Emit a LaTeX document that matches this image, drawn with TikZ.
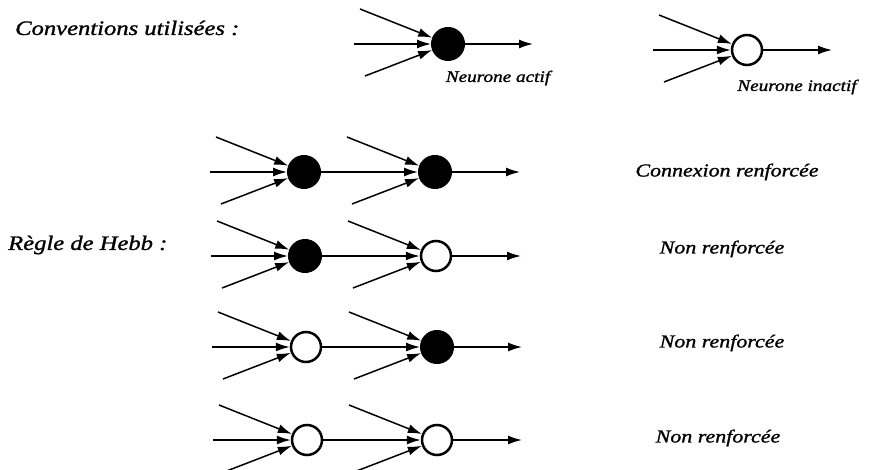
\documentclass[tikz,border=0pt]{standalone}
\usepackage{fontspec}
\setmainfont{Liberation Serif}
\newfontfamily\labfont[FakeStretch=1.2,FakeBold=1.2]{Liberation Serif}
\usetikzlibrary{arrows.meta}
\newcommand\nrn[4]{%
  \node[#2] (#1) at (#3,#4) {};
  \coordinate (#1-u) at ([shift={(-88,-35)}]#1.center);
  \coordinate (#1-l) at ([shift={(-83,32)}]#1.center);
  \draw[link] (#1-u) -- (#1);
  \draw[link] (#1-l) -- (#1);
}
\newcommand\nin[1]{%
  \coordinate (#1-m) at ([shift={(-94,0)}]#1.center);
  \draw[link] (#1-m) -- (#1);
}
\newcommand\nout[1]{%
  \coordinate (#1-o) at ([shift={(85,0)}]#1.center);
  \draw[link] (#1) -- (#1-o);
}
\begin{document}
\begin{tikzpicture}[x=1pt,y=-1pt,
  on/.style={circle,fill=black,draw=black,line width=1pt,minimum size=33pt,inner sep=0pt},
  off/.style={circle,fill=white,draw=black,line width=2.5pt,minimum size=30pt,inner sep=0pt},
  link/.style={line width=1.5pt,-{Latex[length=14pt,width=9pt]}},
  title/.style={font=\labfont\itshape\fontsize{20.5}{24}\selectfont,inner sep=0pt,anchor=west},
  small/.style={font=\labfont\itshape\fontsize{16}{19}\selectfont,inner sep=0pt},
  res/.style={font=\labfont\itshape\fontsize{18.3}{22}\selectfont,inner sep=0pt}]
\useasboundingbox[fill=white] (0,0) rectangle (874,470);

% conventions
\node[title] (tconv) at (15,28) {Conventions utilisées :};
\nrn{ca}{on}{448}{44}\nin{ca}\nout{ca}
\node[small] (lca) at (498,78) {Neurone actif};
\nrn{ci}{off}{747}{50}\nin{ci}\nout{ci}
\node[small] (lci) at (797,87) {Neurone inactif};

% Hebb rule
\node[title] (thebb) at (8,245) {Règle de Hebb :};

\nrn{a1}{on}{304}{172}\nin{a1}
\nrn{b1}{on}{435}{172}\draw[link] (a1) -- (b1);\nout{b1}
\node[res] (r1) at (727,172) {Connexion renforcée};

\nrn{a2}{on}{305}{256}\nin{a2}
\nrn{b2}{off}{436}{256}\draw[link] (a2) -- (b2);\nout{b2}
\node[res] (r2) at (722,249) {Non renforcée};

\nrn{a3}{off}{306}{347}\nin{a3}
\nrn{b3}{on}{437}{347}\draw[link] (a3) -- (b3);\nout{b3}
\node[res] (r3) at (722,343) {Non renforcée};

\nrn{a4}{off}{307}{440}\nin{a4}
\nrn{b4}{off}{437}{440}\draw[link] (a4) -- (b4);\nout{b4}
\node[res] (r4) at (718,438) {Non renforcée};
\end{tikzpicture}
\end{document}
